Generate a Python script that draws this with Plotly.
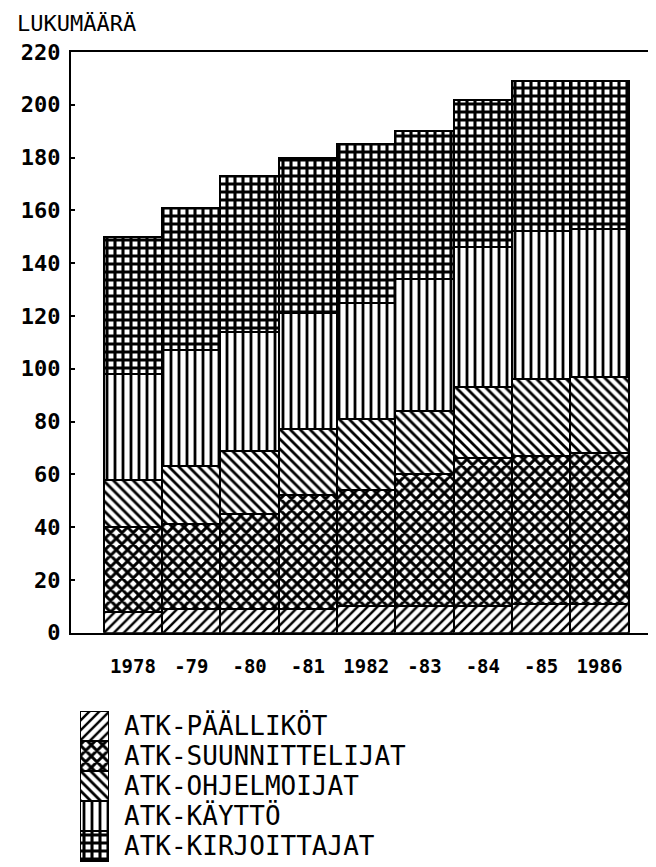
import plotly.graph_objects as go

# ---- data ----
years = ["1978", "-79", "-80", "-81", "1982", "-83", "-84", "-85", "1986"]
paallikot = [8, 9, 9, 9, 10, 10, 10, 11, 11]
suunnittelijat = [32, 32, 36, 43, 44, 50, 56, 56, 57]
ohjelmoijat = [18, 22, 24, 25, 27, 24, 27, 29, 29]
kaytto = [40, 44, 45, 44, 44, 50, 53, 56, 56]
kirjoittajat = [52, 54, 59, 59, 60, 56, 56, 57, 56]
series_names = ["ATK-PÄÄLLIKÖT", "ATK-SUUNNITTELIJAT", "ATK-OHJELMOIJAT",
                "ATK-KÄYTTÖ", "ATK-KIRJOITTAJAT"]
y_ticks = [0, 20, 40, 60, 80, 100, 120, 140, 160, 180, 200, 220]
y_title = "LUKUMÄÄRÄ"

# ---- styling ----
series_values = [paallikot, suunnittelijat, ohjelmoijat, kaytto, kirjoittajat]
patterns = [
    dict(shape="/", size=7, solidity=0.35),
    dict(shape="x", size=8, solidity=0.6),
    dict(shape="\\", size=7, solidity=0.4),
    dict(shape="|", size=8, solidity=0.35),
    dict(shape="+", size=8, solidity=0.62),
]
FONT = "DejaVu Sans Mono"

fig = go.Figure()
for name, vals, pat in zip(series_names, series_values, patterns):
    fig.add_trace(go.Bar(
        x=years, y=vals, name=name, width=1.0, showlegend=False,
        marker=dict(color="white", line=dict(color="black", width=2),
                    pattern=dict(fgcolor="black", bgcolor="white",
                                 fillmode="replace", **pat)),
    ))

# legend swatches drawn on their own small axes
for i, (name, pat) in enumerate(zip(series_names, patterns)):
    fig.add_trace(go.Bar(
        x=[1], y=[i], orientation="h", width=1.0, showlegend=False,
        xaxis="x2", yaxis="y2", hoverinfo="skip",
        marker=dict(color="white", line=dict(color="black", width=2),
                    pattern=dict(fgcolor="black", bgcolor="white",
                                 fillmode="replace", **pat)),
    ))

# page body has an 8px margin, so the figure is laid out 8px smaller
W, H = 648, 859
L, T = 63, 44
plot_w = W - L
plot_h = H - T
y_bottom_px = 624.7
main_y0 = (H - y_bottom_px) / plot_h
leg_top = 703

fig.update_layout(
    width=W, height=H,
    margin=dict(l=L, r=0, t=T, b=0, autoexpand=False),
    paper_bgcolor="white", plot_bgcolor="white",
    barmode="stack", bargap=0,
    font=dict(family=FONT, color="black"),
    xaxis=dict(
        domain=[0, 1], type="category", range=[-1.063, 8.97],
        showline=True, linecolor="black", linewidth=2, mirror=True,
        showgrid=False, zeroline=False, ticks="",
        tickfont=dict(family=FONT, size=19, color="black", weight="bold"),
        ticklabelstandoff=15, anchor="y",
    ),
    yaxis=dict(
        domain=[main_y0, 1], range=[0, 220],
        tickvals=y_ticks, ticktext=[str(v) for v in y_ticks],
        showline=True, linecolor="black", linewidth=2, mirror=False,
        showgrid=False, zeroline=False,
        ticks="inside", ticklen=4, tickwidth=2, tickcolor="black",
        tickfont=dict(family=FONT, size=22, color="black", weight="bold"),
        ticklabelstandoff=4, anchor="x",
    ),
    xaxis2=dict(
        domain=[(72 - L) / plot_w, (101 - L) / plot_w], range=[0, 1],
        visible=False, anchor="y2", fixedrange=True,
    ),
    yaxis2=dict(
        domain=[0, (H - leg_top) / plot_h], range=[4.7, -0.5],
        anchor="x2", side="right",
        tickvals=list(range(len(series_names))), ticktext=series_names,
        showline=False, showgrid=False, zeroline=False, ticks="",
        tickfont=dict(family=FONT, size=26, color="black"),
        ticklabelstandoff=14, ticklabeloverflow="allow", fixedrange=True,
    ),
    annotations=[dict(
        text=y_title, xref="paper", yref="paper",
        x=(7 - L) / plot_w, y=(H - 16) / plot_h,
        xanchor="left", yanchor="middle", showarrow=False,
        font=dict(family=FONT, size=22, color="black"),
    )],
)

fig.write_html("out.html")
